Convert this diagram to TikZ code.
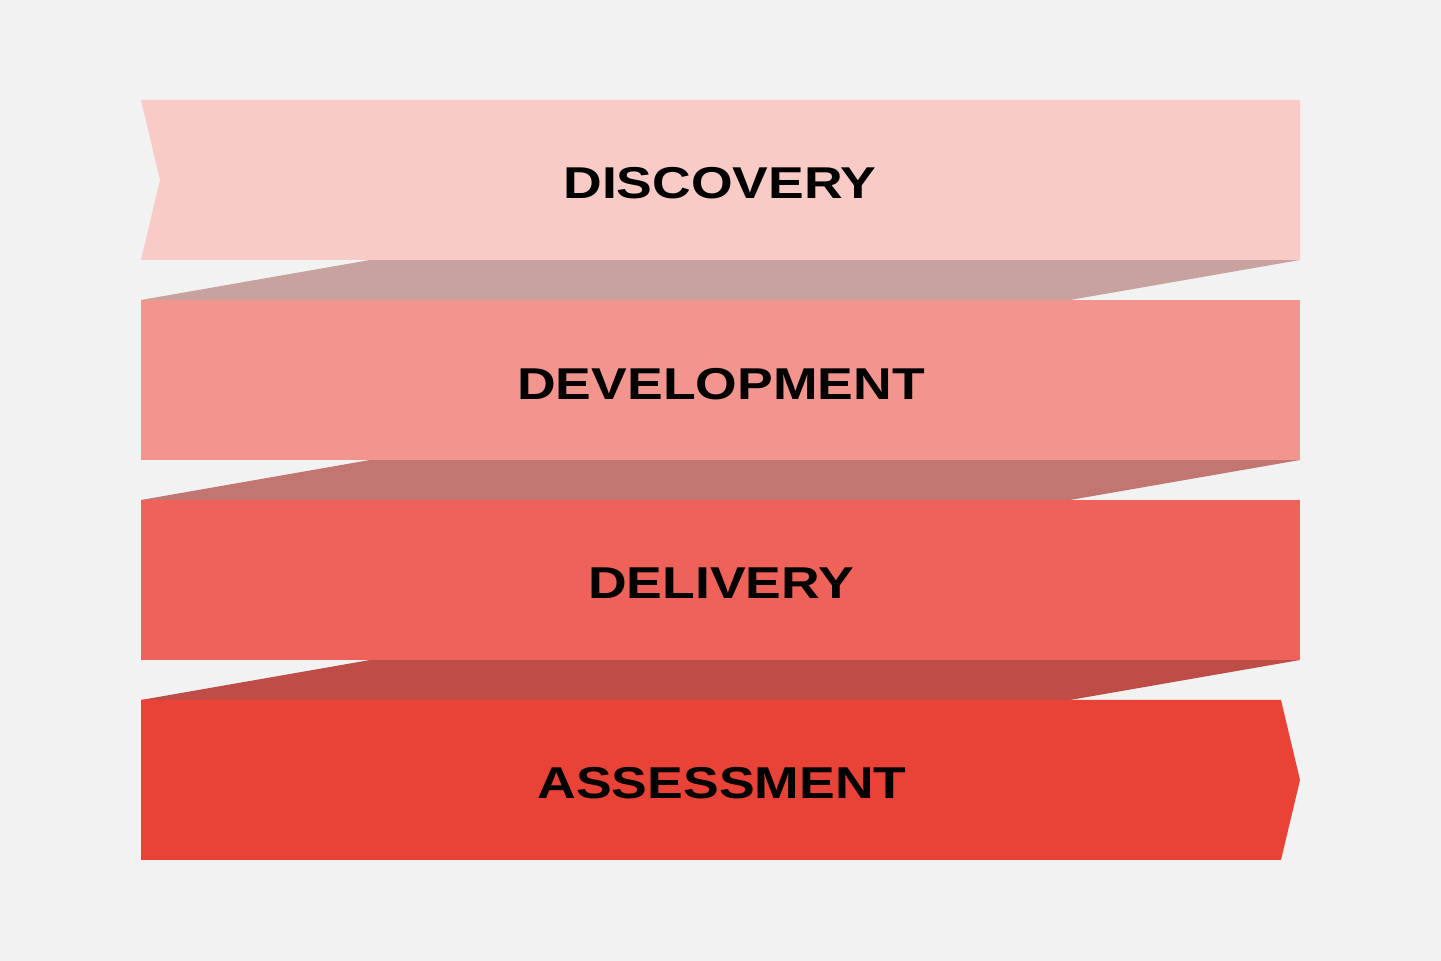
\documentclass[tikz,border=0pt]{standalone}
\usepackage{fontspec}
\newfontfamily\stagefont{Liberation Sans Bold}[FakeStretch=1.2]
\definecolor{bgcol}{HTML}{F2F2F2}
\definecolor{bandA}{HTML}{F8CBC6}
\definecolor{bandB}{HTML}{F3958F}
\definecolor{bandC}{HTML}{EF6259}
\definecolor{bandD}{HTML}{E94237}
\definecolor{foldA}{HTML}{C7A29F}
\definecolor{foldB}{HTML}{C17672}
\definecolor{foldC}{HTML}{BE4D48}
\begin{document}
\begin{tikzpicture}[x=0.5pt, y=-0.5pt,
				stagetext/.style = {font=\stagefont\fontsize{22.3}{26}\selectfont, text=black, inner sep=0pt},
				fold/.style = {draw=none}
			]
			\fill[bgcol] (0,0) rectangle (1441,961);
			\useasboundingbox (0,0) rectangle (1441,961);
			% folds between the bands
			\foreach \y/\c in {260/foldA, 460/foldB, 660/foldC}{
				\fill[fold, \c] (370,\y) -- (1300,\y) -- (1070,{\y+40}) -- (141,{\y+40}) -- cycle;
			}
			% bands
			\fill[bandA] (141,100) -- (1300,100) -- (1300,260) -- (141,260) -- (160,180) -- cycle;
			\fill[bandB] (141,300) rectangle (1300,460);
			\fill[bandC] (141,500) rectangle (1300,660);
			\fill[bandD] (141,700) -- (1281,700) -- (1300,780) -- (1281,860) -- (141,860) -- cycle;
			\node[stagetext] (discovery) at (720,183) {DISCOVERY};
			\node[stagetext] (development) at (721,384) {DEVELOPMENT};
			\node[stagetext] (delivery) at (721,583) {DELIVERY};
			\node[stagetext] (assessment) at (722,783) {ASSESSMENT};
		\end{tikzpicture}
\end{document}
